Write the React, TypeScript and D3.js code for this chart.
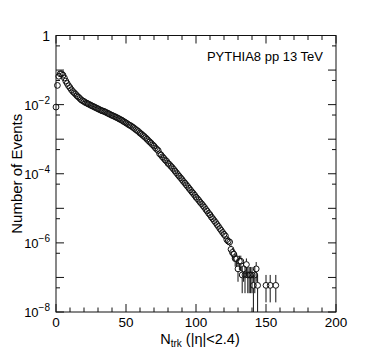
import React from "react";
import * as d3 from "d3";

// fraction of events per N_trk bin, bins 0..119 (index = N_trk)
const bulkValues = [
  8.5e-3, 3.6e-2, 6.6e-2, 7.8e-2, 7.8e-2, 7.1e-2, 5.9e-2, 4.8e-2, 4.1e-2, 3.5e-2,
  3.1e-2, 2.7e-2, 2.4e-2, 2.2e-2, 2.0e-2, 1.8e-2, 1.66e-2, 1.51e-2, 1.38e-2, 1.29e-2,
  1.23e-2, 1.15e-2, 1.10e-2, 1.05e-2, 1.0e-2, 9.5e-3, 9.1e-3, 8.7e-3, 8.3e-3, 7.9e-3,
  7.6e-3, 7.2e-3, 6.9e-3, 6.6e-3, 6.45e-3, 6.2e-3, 5.9e-3, 5.6e-3, 5.4e-3, 5.1e-3,
  4.9e-3, 4.7e-3, 4.5e-3, 4.3e-3, 4.1e-3, 3.9e-3, 3.7e-3, 3.55e-3, 3.3e-3, 3.16e-3,
  2.95e-3, 2.8e-3, 2.6e-3, 2.5e-3, 2.35e-3, 2.2e-3, 2.05e-3, 1.9e-3, 1.78e-3, 1.66e-3,
  1.51e-3, 1.41e-3, 1.29e-3, 1.2e-3, 1.1e-3, 1.0e-3, 9.1e-4, 8.3e-4, 7.6e-4, 6.9e-4,
  6.3e-4, 5.6e-4, 5.1e-4, 4.7e-4, 3.8e-4, 3.5e-4, 3.1e-4, 2.8e-4, 2.5e-4, 2.3e-4,
  2.0e-4, 1.86e-4, 1.66e-4, 1.51e-4, 1.35e-4, 1.2e-4, 1.07e-4, 9.5e-5, 8.5e-5, 7.6e-5,
  6.8e-5, 6.0e-5, 5.4e-5, 4.8e-5, 4.3e-5, 3.8e-5, 3.4e-5, 3.0e-5, 2.7e-5, 2.4e-5,
  2.1e-5, 1.9e-5, 1.7e-5, 1.5e-5, 1.35e-5, 1.2e-5, 1.07e-5, 9.3e-6, 8.3e-6, 7.2e-6,
  6.5e-6, 5.6e-6, 5.0e-6, 4.4e-6, 3.9e-6, 3.4e-6, 3.0e-6, 2.6e-6, 2.3e-6, 2.0e-6,
];

// low-statistics tail, with error bar ends
const tailN = [120, 121, 122, 123, 124, 125, 126, 127, 128, 129, 130, 131, 132, 133, 134, 135, 136, 137, 138, 139, 140, 141, 142, 143, 144, 150, 153, 157];
const tailValues = [
  1.77e-6, 1.59e-6, 1.24e-6, 1.12e-6, 1.06e-6, 6.5e-7, 5.3e-7, 4.7e-7, 3.5e-7, 3.5e-7,
  1.77e-7, 2.95e-7, 2.95e-7, 1.18e-7, 1.77e-7, 1.18e-7, 2.36e-7, 1.18e-7, 1.18e-7, 1.18e-7,
  1.18e-7, 5.9e-8, 1.18e-7, 1.77e-7, 5.9e-8, 5.9e-8, 5.9e-8, 5.9e-8,
];
const tailErrLow = [
  3.2e-7, 3.1e-7, 2.7e-7, 2.6e-7, 2.5e-7, 2.0e-7, 1.8e-7, 1.7e-7, 1.45e-7, 1.45e-7,
  1.02e-7, 1.32e-7, 1.32e-7, 8.3e-8, 1.02e-7, 8.3e-8, 1.18e-7, 8.3e-8, 8.3e-8, 8.3e-8,
  8.3e-8, 5.9e-8, 8.3e-8, 1.02e-7, 5.9e-8, 4.0e-8, 4.0e-8, 4.0e-8,
];
const tailErrHigh = [
  3.2e-7, 3.1e-7, 2.7e-7, 2.6e-7, 2.5e-7, 2.0e-7, 1.8e-7, 1.7e-7, 1.45e-7, 1.45e-7,
  1.02e-7, 1.32e-7, 1.32e-7, 8.3e-8, 1.02e-7, 8.3e-8, 1.18e-7, 8.3e-8, 8.3e-8, 8.3e-8,
  8.3e-8, 5.9e-8, 8.3e-8, 1.02e-7, 5.9e-8, 5.9e-8, 5.9e-8, 5.9e-8,
];

const xMajor = [0, 50, 100, 150, 200];
const yLabelExps = [0, -2, -4, -6, -8];

const W = 374, H = 359;
const left = 56, right = 336, top = 35.5, bottom = 312;
const font = "'Liberation Sans', Arial, Helvetica, sans-serif";
const R = 2.9;

export default function App() {
  const x = d3.scaleLinear().domain([0, 200]).range([left, right]);
  const y = d3.scaleLog().domain([1e-8, 1]).range([bottom, top]);

  const xMinor = d3.range(0, 201, 10).filter((v) => !xMajor.includes(v));
  const decades = d3.range(-8, 1).map((k) => Math.pow(10, k));
  const fives = d3.range(-8, 0).map((k) => 5 * Math.pow(10, k));

  const points = bulkValues
    .map((v, i) => ({ n: i, v, lo: 0, hi: 0 }))
    .concat(tailN.map((n, i) => ({ n, v: tailValues[i], lo: tailErrLow[i], hi: tailErrHigh[i] })));

  const ink = "#111";

  return (
    <svg width={W} height={H} style={{ position: "absolute", left: 0, top: 0, background: "#fff" }} fontFamily={font}>
      {/* error bars */}
      {points.filter((p) => p.hi > 0).map((p, i) => {
        const cx = x(p.n);
        const cy = y(p.v);
        const yHi = y(p.v + p.hi);
        const low = p.v - p.lo;
        const yLo = low > 1e-8 ? y(low) : bottom;
        return (
          <g key={"e" + i} stroke={ink} strokeWidth={1}>
            {cy - R > yHi && <line x1={cx} x2={cx} y1={yHi} y2={cy - R} />}
            {yLo > cy + R && <line x1={cx} x2={cx} y1={cy + R} y2={yLo} />}
          </g>
        );
      })}
      {/* markers */}
      {points.map((p, i) => (
        <circle key={"m" + i} cx={x(p.n)} cy={y(p.v)} r={R} fill="none" stroke={ink} strokeWidth={1} />
      ))}

      {/* frame */}
      <rect x={left} y={top} width={right - left} height={bottom - top} fill="none" stroke={ink} strokeWidth={1} />

      {/* x ticks bottom and top */}
      {xMajor.map((v) => (
        <g key={"xM" + v} stroke={ink}>
          <line x1={x(v)} x2={x(v)} y1={bottom} y2={bottom - 8} />
          <line x1={x(v)} x2={x(v)} y1={top} y2={top + 8} />
        </g>
      ))}
      {xMinor.map((v) => (
        <g key={"xm" + v} stroke={ink}>
          <line x1={x(v)} x2={x(v)} y1={bottom} y2={bottom - 4.5} />
          <line x1={x(v)} x2={x(v)} y1={top} y2={top + 4.5} />
        </g>
      ))}
      {xMajor.map((v) => (
        <text key={"xl" + v} x={x(v)} y={327} fontSize={13.5} textAnchor="middle" fill="#000">{v}</text>
      ))}

      {/* y ticks left and right */}
      {decades.map((v) => (
        <g key={"yD" + v} stroke={ink}>
          <line x1={left} x2={left + 8} y1={y(v)} y2={y(v)} />
          <line x1={right} x2={right - 8} y1={y(v)} y2={y(v)} />
        </g>
      ))}
      {fives.map((v) => (
        <g key={"y5" + v} stroke={ink}>
          <line x1={left} x2={left + 4} y1={y(v)} y2={y(v)} />
          <line x1={right} x2={right - 4} y1={y(v)} y2={y(v)} />
        </g>
      ))}
      {yLabelExps.map((k) =>
        k === 0 ? (
          <text key={"yl" + k} x={50} y={y(1) + 5} fontSize={14} textAnchor="end" fill="#000">1</text>
        ) : (
          <text key={"yl" + k} x={50} y={y(Math.pow(10, k)) + 5} fontSize={13} textAnchor="end" fill="#000">
            10
            <tspan fontSize={10} dy={-6}>{"\u2212" + Math.abs(k)}</tspan>
          </text>
        )
      )}

      {/* titles */}
      <text transform={`translate(22, ${(top + bottom) / 2}) rotate(-90)`} fontSize={15} textAnchor="middle" fill="#000">
        Number of Events
      </text>
      <text x={200} y={344} fontSize={14.5} textAnchor="middle" fill="#000">
        N
        <tspan fontSize={10} dy={3}>trk</tspan>
        <tspan dy={-3}>{" (|\u03b7|<2.4)"}</tspan>
      </text>
      <text x={323} y={61} fontSize={13} textAnchor="end" fill="#000">PYTHIA8 pp 13 TeV</text>
    </svg>
  );
}
